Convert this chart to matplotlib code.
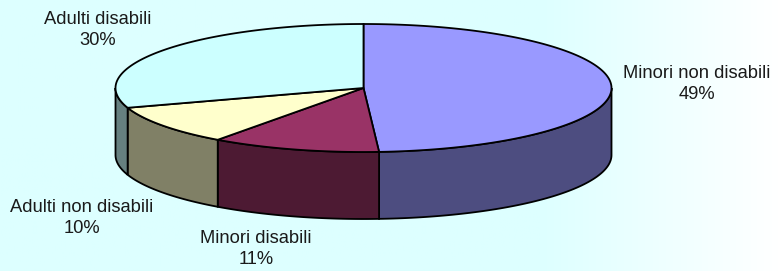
import numpy as np
import matplotlib.pyplot as plt
from matplotlib.patches import Polygon
from matplotlib.colors import LinearSegmentedColormap

# data (clockwise from 12 o'clock)
labels = ["Minori non disabili", "Minori disabili", "Adulti non disabili", "Adulti disabili"]
values = [49, 11, 10, 30]
top_colors = ["#9999FF", "#993366", "#FFFFCC", "#CCFFFF"]
side_colors = ["#4D4D80", "#4D1A33", "#808066", "#668080"]
label_pos = [(697, 84), (256, 249), (82, 218), (98, 30)]

W, H = 778, 271
fig = plt.figure(figsize=(W / 100, H / 100), dpi=100)
ax = fig.add_axes([0, 0, 1, 1])
ax.set_xlim(0, W)
ax.set_ylim(H, 0)
ax.axis("off")

# background: light cyan fading to white at the right
grad = np.clip((np.linspace(0, W, 400) - 540) / 240, 0, 1)[None, :]
cmap = LinearSegmentedColormap.from_list("bg", ["#DDFFFF", "#FFFFFF"])
ax.imshow(grad, extent=[0, W, H, 0], cmap=cmap, vmin=0, vmax=1, aspect="auto", zorder=0)

cx, cy, a, b, depth = 363.5, 88, 248, 64, 67


def pt(t, dy=0):
    return cx + a * np.cos(t), cy - b * np.sin(t) + dy


total = sum(values)
start = np.pi / 2
angles = []
for v in values:
    end = start - 2 * np.pi * v / total
    angles.append((start, end))
    start = end

# side walls (front half only: angles between -pi and 0)
for (t0, t1), col in zip(angles, side_colors):
    lo, hi = t1, t0
    for shift in (0, 2 * np.pi, -2 * np.pi):
        s_lo, s_hi = max(lo + shift, -np.pi), min(hi + shift, 0)
        if s_hi > s_lo:
            ts = np.linspace(s_lo, s_hi, 80)
            top = [pt(t) for t in ts]
            bot = [pt(t, depth) for t in ts[::-1]]
            ax.add_patch(Polygon(top + bot, closed=True, facecolor=col,
                                 edgecolor="black", linewidth=1.3, zorder=2))

# top faces
for (t0, t1), col in zip(angles, top_colors):
    ts = np.linspace(t0, t1, 200)
    verts = [(cx, cy)] + [pt(t) for t in ts]
    ax.add_patch(Polygon(verts, closed=True, facecolor=col,
                         edgecolor="black", linewidth=1.3, zorder=3))

for lab, v, (x, y) in zip(labels, values, label_pos):
    ax.text(x, y, f"{lab}\n{v}%", ha="center", va="center", fontsize=13.2,
            family="Liberation Sans", color="#1a1a1a", linespacing=1.38, zorder=5)

fig.savefig("out.png", dpi=100)
